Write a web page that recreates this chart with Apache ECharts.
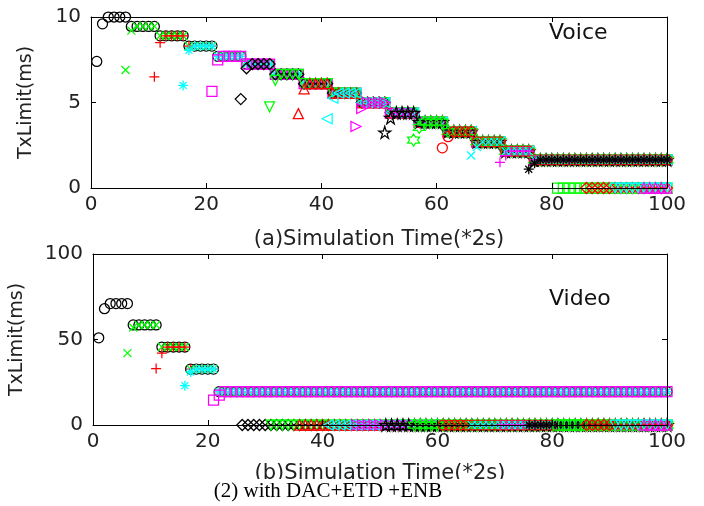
<!DOCTYPE html>
<html><head><meta charset="utf-8">
<script src="https://cdn.jsdelivr.net/npm/echarts@6/dist/echarts.min.js"></script>
<style>html,body{margin:0;padding:0;background:#fff}#c{width:704px;height:506px}</style>
</head><body><div id="c"></div>
<script>
// ---- data ----
// time step (x, *2s) at which each of the 20 stations joins
const joinTimes = [1, 6, 11, 16, 21, 26, 31, 36, 41, 46, 51, 56, 61, 66, 71, 76, 81, 86, 91, 96];
// MATLAB marker / colour of each station
const stationMarkers = ['o','x','+','*','s','d','v','^','<','>','p','h','o','x','+','*','s','d','v','^'];
const stationColors  = ['k','g','r','c','m','k','g','r','c','m','k','g','r','c','m','k','g','r','c','m'];

// Voice: TxLimit given to a station at the step it joins, and at the next step
const voiceJoinValue  = [7.4, 6.9, 6.5, 6.0, 5.65, 5.2, 4.75, 4.35, 4.05, 3.6, 3.25, 2.8, 2.35, 1.9, 1.5, 1.1, 0, 0, 0, 0];
const voiceFirstStep  = [9.6, 9.2, 8.5, 8.05, 7.5, 7.0, 6.3, 5.8, 5.25, 4.65, 4.1, 3.55, 3.0, 2.4, 1.9, 1.45, 0, 0, 0, 0];
const voiceAdmitted   = [1,1,1,1,1,1,1,1,1,1,1,1,1,1,1,1,0,0,0,0];
// Voice: TxLimit shared by admitted stations at time t = 1..100
const voiceLevel = [
  null, 10, 10, 10, 10, 10,
  9.45, 9.45, 9.45, 9.45, 9.45,
  8.9, 8.9, 8.9, 8.9, 8.9,
  8.3, 8.3, 8.3, 8.3, 8.3,
  7.7, 7.7, 7.7, 7.7, 7.7,
  7.25, 7.25, 7.25, 7.25, 7.25,
  6.65, 6.65, 6.65, 6.65, 6.65,
  6.1, 6.1, 6.1, 6.1, 6.1,
  5.55, 5.55, 5.55, 5.55, 5.55,
  5.0, 5.0, 5.0, 5.0, 5.0,
  4.4, 4.4, 4.4, 4.4, 4.4,
  3.85, 3.85, 3.85, 3.85, 3.85,
  3.3, 3.3, 3.3, 3.3, 3.3,
  2.7, 2.7, 2.7, 2.7, 2.7,
  2.15, 2.15, 2.15, 2.15, 2.15,
  1.65, 1.65, 1.65, 1.65, 1.65, 1.65, 1.65, 1.65, 1.65, 1.65, 1.65, 1.65,
  1.65, 1.65, 1.65, 1.65, 1.65, 1.65, 1.65, 1.65, 1.65, 1.65, 1.65, 1.65
];

// Video
const videoJoinValue = [51, 42, 33, 23, 14.6, 0, 0, 0, 0, 0, 0, 0, 0, 0, 0, 0, 0, 0, 0, 0];
const videoFirstStep = [68, 57, 42, 31, 17.5, 0, 0, 0, 0, 0, 0, 0, 0, 0, 0, 0, 0, 0, 0, 0];
const videoAdmitted  = [1,1,1,1,1,0,0,0,0,0,0,0,0,0,0,0,0,0,0,0];
const videoLevel = [
  null, 71, 71, 71, 71, 71,
  58.5, 58.5, 58.5, 58.5, 58.5,
  45.6, 45.6, 45.6, 45.6, 45.6,
  32.7, 32.7, 32.7, 32.7, 32.7,
  19.5, 19.5, 19.5, 19.5, 19.5, 19.5, 19.5, 19.5, 19.5, 19.5,
  19.5, 19.5, 19.5, 19.5, 19.5, 19.5, 19.5, 19.5, 19.5, 19.5,
  19.5, 19.5, 19.5, 19.5, 19.5, 19.5, 19.5, 19.5, 19.5, 19.5,
  19.5, 19.5, 19.5, 19.5, 19.5, 19.5, 19.5, 19.5, 19.5, 19.5,
  19.5, 19.5, 19.5, 19.5, 19.5, 19.5, 19.5, 19.5, 19.5, 19.5,
  19.5, 19.5, 19.5, 19.5, 19.5, 19.5, 19.5, 19.5, 19.5, 19.5,
  19.5, 19.5, 19.5, 19.5, 19.5, 19.5, 19.5, 19.5, 19.5, 19.5,
  19.5, 19.5, 19.5, 19.5, 19.5, 19.5, 19.5, 19.5, 19.5
];

const xTicks = [0, 20, 40, 60, 80, 100];
const voiceTicks = [0, 5, 10];
const videoTicks = [0, 50, 100];
const xName = ['(a)Simulation Time(*2s)', '(b)Simulation Time(*2s)'];
const yName = 'TxLimit(ms)';
const panelTitles = ['Voice', 'Video'];
const caption = '(2) with DAC+ETD +ENB';

// ---- styles ----
const COLORS = { k: '#000000', g: '#00ff00', r: '#ff0000', c: '#00ffff', m: '#ff00ff' };
const SYMBOLS = {
  'o': ['circle', 10],
  'x': ['path://M0,0L10,10M10,0L0,10', 8],
  '+': ['path://M5,0L5,10M0,5L10,5', 10],
  '*': ['path://M5,0L5,10M0,5L10,5M1.5,1.5L8.5,8.5M8.5,1.5L1.5,8.5', 10],
  's': ['rect', 10],
  'd': ['diamond', 11],
  'v': ['path://M0,0L10,0L5,9Z', 10],
  '^': ['path://M5,0L10,9L0,9Z', 10],
  '<': ['path://M9,0L9,10L0,5Z', 10],
  '>': ['path://M0,0L0,10L9,5Z', 10],
  'p': ['path://M5,0L6.12,3.455L9.755,3.455L6.82,5.59L7.94,9.045L5,6.91L2.06,9.045L3.18,5.59L0.245,3.455L3.88,3.455Z', 12],
  'h': ['path://M5,0L6.443,2.5L9.33,2.5L7.887,5L9.33,7.5L6.443,7.5L5,10L3.557,7.5L0.67,7.5L2.113,5L0.67,2.5L3.557,2.5Z', 12]
};

function stationData(i, joinVal, firstStep, admitted, level) {
  const t0 = joinTimes[i];
  const pts = [[t0, joinVal[i]]];
  if (admitted[i]) {
    pts.push([t0 + 1, firstStep[i]]);
    for (let t = t0 + 2; t <= 100; t++) pts.push([t, level[t - 1]]);
  } else {
    for (let t = t0 + 1; t <= 100; t++) pts.push([t, joinVal[i]]);
  }
  return pts;
}

const series = [];
[[voiceJoinValue, voiceFirstStep, voiceAdmitted, voiceLevel, 0],
 [videoJoinValue, videoFirstStep, videoAdmitted, videoLevel, 2]].forEach(([jv, fs, ad, lv, ax]) => {
  joinTimes.forEach((_, i) => {
    const sym = SYMBOLS[stationMarkers[i]];
    series.push({
      type: 'scatter',
      xAxisIndex: ax, yAxisIndex: ax,
      symbol: sym[0], symbolSize: sym[1],
      clip: false,
      silent: true,
      itemStyle: { color: 'rgba(0,0,0,0)', borderColor: COLORS[stationColors[i]], borderWidth: 1.25, opacity: 1 },
      data: stationData(i, jv, fs, ad, lv)
    });
  });
});

const FONT = 'DejaVu Sans';
const lineStyle = { color: '#000', width: 1 };
function xAxis(grid, pos, showLabel, name, gap) {
  return {
    type: 'value', gridIndex: grid, position: pos, min: xTicks[0], max: xTicks[xTicks.length - 1],
    interval: xTicks[1] - xTicks[0], z: 10,
    axisLine: { show: true, onZero: false, lineStyle },
    axisTick: { show: true, inside: true, length: 5, lineStyle },
    axisLabel: { show: showLabel, fontFamily: FONT, fontSize: 20, color: '#222', margin: 7 },
    splitLine: { show: false },
    name: name || '', nameLocation: 'middle', nameGap: gap || 0,
    nameTextStyle: { fontFamily: FONT, fontSize: 21, color: '#222' }
  };
}
function yAxis(grid, pos, ticks, showLabel, name, gap) {
  return {
    type: 'value', gridIndex: grid, position: pos, min: ticks[0], max: ticks[ticks.length - 1],
    interval: ticks[1] - ticks[0], z: 10,
    axisLine: { show: true, onZero: false, lineStyle },
    axisTick: { show: true, inside: true, length: 5, lineStyle },
    axisLabel: { show: showLabel, fontFamily: FONT, fontSize: 20, color: '#222', margin: 10 },
    splitLine: { show: false },
    name: name || '', nameLocation: 'middle', nameGap: gap || 0,
    nameTextStyle: { fontFamily: FONT, fontSize: 19, color: '#222' }
  };
}

const option = {
  animation: false,
  backgroundColor: '#fff',
  grid: [
    { left: 91, top: 17, width: 576, height: 171 },
    { left: 91, top: 254, width: 576, height: 171 }
  ],
  xAxis: [
    xAxis(0, 'bottom', true, xName[0], 41),
    xAxis(0, 'top', false),
    xAxis(1, 'bottom', true, xName[1], 38),
    xAxis(1, 'top', false)
  ],
  yAxis: [
    yAxis(0, 'left', voiceTicks, true, yName, 55),
    yAxis(0, 'right', voiceTicks, false),
    yAxis(1, 'left', videoTicks, true, yName, 66),
    yAxis(1, 'right', videoTicks, false)
  ],
  graphic: [
    { type: 'text', left: 549, top: 22, z: 100, style: { text: panelTitles[0], font: '22px "DejaVu Sans"', fill: '#111' } },
    { type: 'text', left: 549, top: 288, z: 100, style: { text: panelTitles[1], font: '22px "DejaVu Sans"', fill: '#111' } },
    { type: 'rect', left: 0, top: 479, z: 100, shape: { width: 704, height: 27 }, style: { fill: '#fff' } },
    { type: 'text', x: 328, y: 491, z: 101, style: { text: caption, font: '21px "Liberation Serif"', fill: '#000', align: 'center', verticalAlign: 'middle' } }
  ],
  series
};
echarts.init(document.getElementById('c'), null, { renderer: 'canvas' }).setOption(option);
</script>
</body></html>
